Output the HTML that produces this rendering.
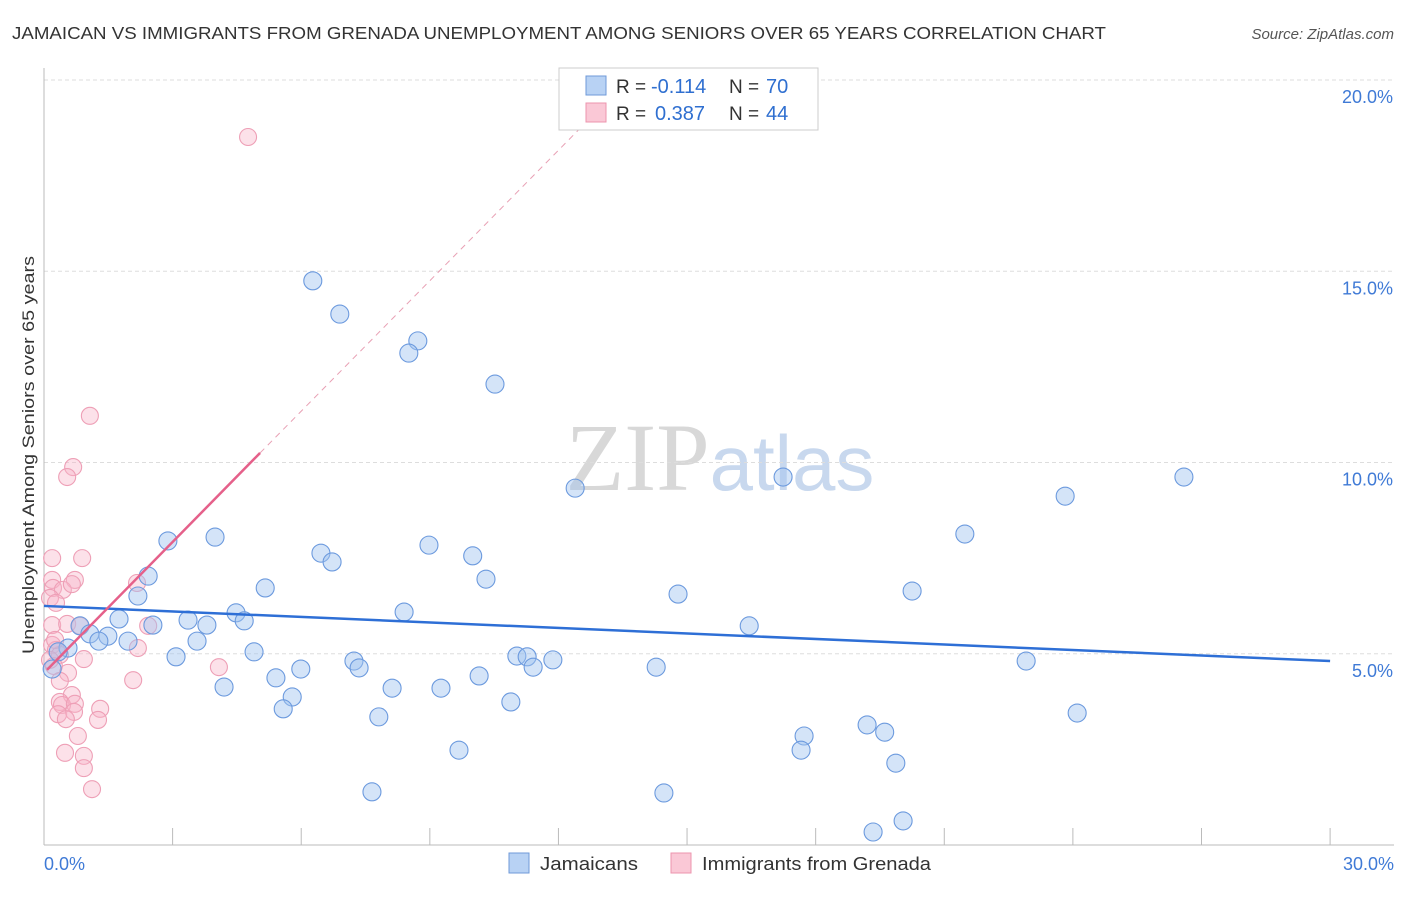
<!DOCTYPE html>
<html><head><meta charset="utf-8"><style>
body{margin:0;background:#fff;font-family:"Liberation Sans",sans-serif}
</style></head><body>
<svg id="chart" width="1406" height="892" xmlns="http://www.w3.org/2000/svg" font-family="Liberation Sans, sans-serif">
<text x="12" y="39" font-size="17.5" fill="#333" textLength="1094" lengthAdjust="spacingAndGlyphs">JAMAICAN VS IMMIGRANTS FROM GRENADA UNEMPLOYMENT AMONG SENIORS OVER 65 YEARS CORRELATION CHART</text>
<text x="1394" y="39" font-size="15" fill="#555" text-anchor="end" font-style="italic">Source: ZipAtlas.com</text>
<text x="720" y="490" font-size="96" text-anchor="middle"><tspan fill="#d8d8d8" font-family="Liberation Serif, serif">ZIP</tspan><tspan fill="#c8d8ee" font-size="78">atlas</tspan></text>
<g id="grid"></g><g id="axes"></g><g id="pts"></g><g id="trend"></g>
<text transform="translate(34,455) rotate(-90)" font-size="17" fill="#333" text-anchor="middle" textLength="398" lengthAdjust="spacingAndGlyphs">Unemployment Among Seniors over 65 years</text>
<g>
<rect x="559" y="68" width="259" height="62" fill="#fff" stroke="#ccc"/>
<rect x="586" y="76" width="20" height="19" fill="#b8d2f4" stroke="#6f9ad8"/>
<rect x="586" y="103" width="20" height="19" fill="#fac8d6" stroke="#ec94ae"/>
<text x="616" y="93" font-size="19" fill="#333">R =</text>
<text x="651" y="93" font-size="20" fill="#2f6fd0">-0.114</text>
<text x="729" y="93" font-size="19" fill="#333">N =</text>
<text x="766" y="93" font-size="20" fill="#2f6fd0">70</text>
<text x="616" y="120" font-size="19" fill="#333">R =</text>
<text x="655" y="120" font-size="20" fill="#2f6fd0">0.387</text>
<text x="729" y="120" font-size="19" fill="#333">N =</text>
<text x="766" y="120" font-size="20" fill="#2f6fd0">44</text>
</g>
<g>
<rect x="509" y="853" width="20" height="20" fill="#b8d2f4" stroke="#6f9ad8"/>
<text x="540" y="870" font-size="18" fill="#333" textLength="98" lengthAdjust="spacingAndGlyphs">Jamaicans</text>
<rect x="671" y="853" width="20" height="20" fill="#fac8d6" stroke="#ec94ae"/>
<text x="702" y="870" font-size="18" fill="#333" textLength="229" lengthAdjust="spacingAndGlyphs">Immigrants from Grenada</text>
</g>
</svg>
<script>
const yTicks=[5,10,15,20];
const yTickLabels=["5.0%","10.0%","15.0%","20.0%"];
const xTickCount=[0,3,6,9,12,15,18,21,24,27,30];
const jamX=[6.27,6.9,8.72,8.51,10.52,12.39,17.24,26.59,23.82,21.48,2.89,3.99,6.46,6.72,8.98,10.0,10.31,2.43,2.19,5.16,14.79,20.25,4.48,8.4,1.75,3.36,3.8,4.67,2.54,0.84,16.45,1.49,1.07,1.28,1.96,3.57,4.9,3.08,0.56,0.33,0.19,5.99,7.23,7.35,11.03,11.27,11.41,11.87,14.28,22.91,10.15,5.41,4.2,5.79,8.12,9.26,5.58,10.89,7.81,24.1,19.2,19.61,17.73,17.66,9.68,19.87,7.65,14.46,20.04,19.34];
const jamY=[14.75,13.88,13.18,12.86,12.05,9.33,9.62,9.62,9.12,8.13,7.95,8.05,7.63,7.4,7.84,7.56,6.95,7.03,6.51,6.72,6.56,6.64,6.07,6.09,5.91,5.88,5.75,5.86,5.75,5.73,5.73,5.46,5.52,5.33,5.33,5.33,5.05,4.92,5.15,5.05,4.6,4.6,4.81,4.63,4.94,4.92,4.65,4.84,4.65,4.81,4.42,4.37,4.13,3.87,4.1,4.1,3.56,3.74,3.35,3.45,3.14,2.95,2.85,2.48,2.48,2.14,1.39,1.36,0.63,0.34];
const grenX=[4.76,1.07,0.68,0.54,0.19,0.89,0.19,0.72,0.21,0.44,0.65,2.17,0.14,0.28,0.19,0.54,0.84,2.43,0.19,0.28,0.37,2.19,0.93,4.08,0.23,0.56,2.08,0.37,0.65,0.37,0.42,0.72,0.33,1.31,0.7,0.51,1.26,0.79,0.49,0.93,0.93,1.12,0.14,0.26];
const grenY=[18.51,11.22,9.88,9.62,7.5,7.5,6.93,6.93,6.72,6.67,6.82,6.85,6.46,6.33,5.75,5.78,5.73,5.73,5.23,5.1,4.97,5.15,4.86,4.65,4.68,4.5,4.31,4.29,3.92,3.74,3.66,3.69,3.42,3.56,3.48,3.29,3.27,2.85,2.41,2.33,2.01,1.46,4.84,5.36];
const jamTrend=[0,6.25,30,4.81];
const grenTrend=[0.07,4.58,5.04,10.25,13.0,19.3];
const X=v=>44+v*42.87, Y=v=>845-v*38.25;
const NS="http://www.w3.org/2000/svg";
function mk(p,t,a){const e=document.createElementNS(NS,t);for(const k in a)e.setAttribute(k,a[k]);document.getElementById(p).appendChild(e);return e;}
yTicks.forEach((t,i)=>{
 const g=mk('grid','line',{x1:44,x2:1394,y1:Y(t),y2:Y(t),stroke:'#ddd','stroke-dasharray':'4,3'});
 
 
 const l=mk('grid','text',{x:1393,y:Y(t)+23,'font-size':18,fill:'#3f7ad6','text-anchor':'end'});
 l.textContent=yTickLabels[i];
 
 
});
const ax=mk('axes','line',{x1:44,x2:44,y1:68,y2:845,stroke:'#bbb'});


const bx=mk('axes','line',{x1:44,x2:1394,y1:845,y2:845,stroke:'#bbb'});


xTickCount.forEach(t=>{
 const k=mk('axes','line',{x1:X(t),x2:X(t),y1:828,y2:845,stroke:'#bbb'});
 
 
});
[[0,"0.0%",'start',44],[30,"30.0%",'end',1394]].forEach(a=>{
 const l=mk('axes','text',{x:a[3],y:870,'font-size':18,fill:'#3f7ad6','text-anchor':a[2]});
 l.textContent=a[1];
 
 
});
grenX.forEach((x,i)=>{
 const c=mk('pts','circle',{cx:X(x),cy:Y(grenY[i]),r:8.5,fill:'rgba(248,180,200,0.4)',stroke:'#ee9fb6','stroke-width':1.1});
 
 
});
jamX.forEach((x,i)=>{
 const c=mk('pts','circle',{cx:X(x),cy:Y(jamY[i]),r:9,fill:'rgba(160,196,240,0.45)',stroke:'#6c9ade','stroke-width':1.1});
 
 
});
const t1=mk('trend','line',{x1:X(jamTrend[0]),y1:Y(jamTrend[1]),x2:X(jamTrend[2]),y2:Y(jamTrend[3]),stroke:'#2e6fd6','stroke-width':2.5});


const t2=mk('trend','line',{x1:X(grenTrend[0]),y1:Y(grenTrend[1]),x2:X(grenTrend[2]),y2:Y(grenTrend[3]),stroke:'#e5608a','stroke-width':2.5});


const t3=mk('trend','line',{x1:X(grenTrend[2]),y1:Y(grenTrend[3]),x2:X(grenTrend[4]),y2:Y(grenTrend[5]),stroke:'#e8a0b4','stroke-width':1,'stroke-dasharray':'6,5'});


</script>
</body></html>
